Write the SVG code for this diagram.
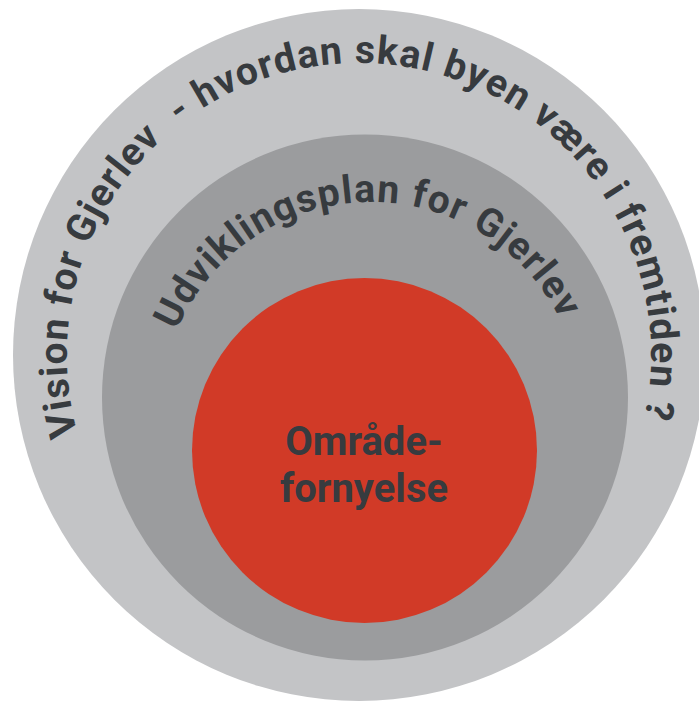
<svg xmlns="http://www.w3.org/2000/svg" width="699" height="704" viewBox="0 0 699 704">
  <style>
    .lbl { font-family: Roboto, "Liberation Sans", Arial, sans-serif; font-weight: 700; fill: #373b3f; }
    .arc { font-size: 39px; letter-spacing: 1.2px; }
    .ctr { font-size: 40px; }
  </style>
  <defs>
    <path id="outerPath" d="M 359 647 A 292 292 0 1 1 359 63 A 292 292 0 1 1 359 647" fill="none"/>
    <path id="midPath" d="M 371 624 A 211 211 0 1 1 371 202 A 211 211 0 1 1 371 624" fill="none"/>
  </defs>
  <rect width="699" height="704" fill="#ffffff"/>
  <g id="vision">
    <circle cx="359" cy="355" r="346" fill="#c3c4c6"/>
    <text class="lbl arc" xml:space="preserve"><textPath href="#outerPath" startOffset="909" text-anchor="middle">Vision for Gjerlev  - hvordan skal byen være i fremtiden ?</textPath></text>
  </g>
  <g id="udviklingsplan">
    <circle cx="365" cy="397.5" r="263" fill="#9b9c9e"/>
    <text class="lbl arc"><textPath href="#midPath" startOffset="657" text-anchor="middle">Udviklingsplan for Gjerlev</textPath></text>
  </g>
  <g id="omraadefornyelse">
    <circle cx="364.5" cy="450.5" r="172.5" fill="#d13a27"/>
    <text class="lbl ctr" x="364" y="455" text-anchor="middle">Område-</text>
    <text class="lbl ctr" x="364" y="502" text-anchor="middle">fornyelse</text>
  </g>
  <g id="connectors"/>
</svg>
